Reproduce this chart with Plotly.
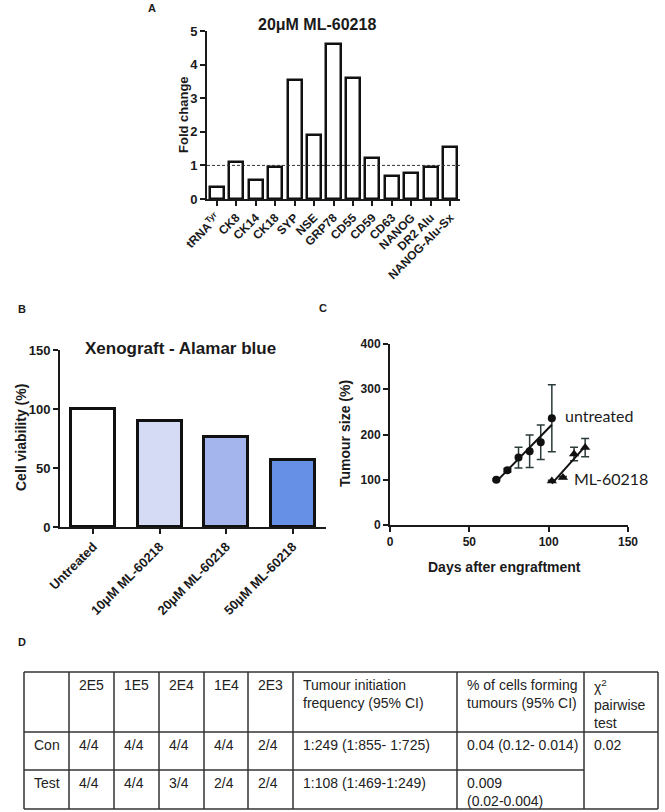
import numpy as np
import plotly.graph_objects as go

W, H = 665, 812

# A: fold change at 20 uM ML-60218
genes = ["tRNA<sup>Tyr</sup>", "CK8", "CK14", "CK18", "SYP", "NSE", "GRP78",
         "CD55", "CD59", "CD63", "NANOG", "DR2 Alu", "NANOG-Alu-Sx"]
fold_change = [0.37, 1.09, 0.58, 0.94, 3.53, 1.91, 4.60, 3.60, 1.23, 0.69, 0.78, 0.95, 1.56]

# B: alamar blue viability
treatments = ["Untreated", "10μM ML-60218", "20μM ML-60218", "50μM ML-60218"]
viability = [100, 90, 76, 57]
bar_colors = ["#ffffff", "#d5daf5", "#a4b5ee", "#6590e6"]

# C: tumour growth
days_untreated = [67, 74, 81, 88, 95, 102]
size_untreated = [100, 121, 149, 163, 183, 236]
err_untreated = [2, 4, 23, 36, 38, 74]
days_ml = [102, 109, 116, 123]
size_ml = [97, 105, 157, 171]
err_ml = [2, 2, 15, 20]

# D: limiting dilution table
doses = ["2E5", "1E5", "2E4", "1E4", "2E3"]
groups = ["Con", "Test"]
con_counts = ["4/4", "4/4", "4/4", "4/4", "2/4"]
test_counts = ["4/4", "4/4", "3/4", "2/4", "2/4"]
tif = ["1:249 (1:855- 1:725)", "1:108 (1:469-1:249)"]
pct_cells = ["0.04 (0.12- 0.014)", "0.009<br>(0.02-0.004)"]
chi2 = ["0.02", ""]
tbl_header = [""] + doses + ["Tumour initiation<br>frequency (95% CI)",
                             "% of cells forming<br>tumours (95% CI)",
                             "χ<sup>2</sup><br>pairwise<br>test"]


def xd(a, b):
    return [a / W, b / W]


def yd(top, bottom):
    return [1 - bottom / H, 1 - top / H]


BOLD = dict(family="Liberation Sans, Arial", color="#1a1a1a", weight="bold")
ax_common = dict(showline=True, linecolor="#1a1a1a", linewidth=2, ticks="outside",
                 ticklen=5, tickwidth=2, tickcolor="#1a1a1a", showgrid=False,
                 zeroline=False, automargin=False)

fig = go.Figure()

fig.add_trace(go.Bar(x=list(range(len(genes))), y=fold_change, width=0.72,
                     marker=dict(color="white", line=dict(color="#111", width=2.5)),
                     xaxis="x", yaxis="y", showlegend=False))

fig.add_trace(go.Bar(x=list(range(len(treatments))), y=viability, width=0.66,
                     marker=dict(color=bar_colors, line=dict(color="#111", width=3)),
                     xaxis="x2", yaxis="y2", showlegend=False))

err_style = dict(type="data", color="#2b3a3a", thickness=1.5, width=4)
fig.add_trace(go.Scatter(x=days_untreated, y=size_untreated, mode="markers",
                         marker=dict(symbol="circle", size=8, color="#111"),
                         error_y=dict(array=err_untreated, **err_style),
                         xaxis="x3", yaxis="y3", showlegend=False))
fig.add_trace(go.Scatter(x=days_ml, y=size_ml, mode="markers",
                         marker=dict(symbol="triangle-up", size=9, color="#111"),
                         error_y=dict(array=err_ml, **err_style),
                         xaxis="x3", yaxis="y3", showlegend=False))

# linear fits through each series
for dx, sy in [(days_untreated, size_untreated), (days_ml, size_ml)]:
    coef = np.polyfit(dx, sy, 1)
    xf = [dx[0], dx[-1]]
    fig.add_trace(go.Scatter(x=xf, y=np.polyval(coef, xf), mode="lines",
                             line=dict(color="#111", width=2),
                             xaxis="x3", yaxis="y3", showlegend=False))

# table grid, in its own hidden axes (units = px from the table's top-left)
col_edges = [0, 45, 90, 135, 180, 224, 269, 433, 560, 634]
row_edges = [0, 60, 98, 137]

fig.update_layout(
    width=W, height=H, margin=dict(l=0, r=0, t=0, b=0),
    paper_bgcolor="white", plot_bgcolor="white", bargap=0,
    xaxis=dict(domain=xd(207, 460), range=[-0.5, 12.5], tickvals=list(range(len(genes))),
               ticktext=genes, tickangle=-45, tickfont=dict(size=12, **BOLD),
               anchor="y", **ax_common),
    yaxis=dict(domain=yd(31, 199), range=[0, 5], dtick=1, tickfont=dict(size=13, **BOLD),
               anchor="x", **ax_common),
    xaxis2=dict(domain=xd(60, 326), range=[-0.5, 3.5], tickvals=list(range(len(treatments))),
                ticktext=treatments, tickangle=-45, tickfont=dict(size=13, **BOLD),
                anchor="y2", **ax_common),
    yaxis2=dict(domain=yd(350, 527), range=[0, 150], dtick=50, tickfont=dict(size=13, **BOLD),
                anchor="x2", **ax_common),
    xaxis3=dict(domain=xd(390, 628), range=[0, 150], dtick=50, tickfont=dict(size=12, **BOLD),
                anchor="y3", **ax_common),
    yaxis3=dict(domain=yd(344, 525), range=[0, 400], dtick=100, tickfont=dict(size=12, **BOLD),
                anchor="x3", **ax_common),
    xaxis4=dict(domain=xd(22, 660), range=[-2, 636], visible=False, anchor="y4"),
    yaxis4=dict(domain=yd(670, 811), range=[139, -2], visible=False, anchor="x4"),
)

fig.add_shape(type="line", xref="x domain", yref="y", x0=0, x1=1, y0=1, y1=1,
              line=dict(color="#333", width=1, dash="3px,2px"))

grid = dict(color="#333", width=1.5)
for cx in col_edges:
    fig.add_shape(type="line", xref="x4", yref="y4", x0=cx, x1=cx,
                  y0=row_edges[0], y1=row_edges[-1], line=grid)
for i, ry in enumerate(row_edges):
    # chi-square cell spans both data rows
    x_end = col_edges[-2] if i == 2 else col_edges[-1]
    fig.add_shape(type="line", xref="x4", yref="y4", x0=col_edges[0], x1=x_end,
                  y0=ry, y1=ry, line=grid)

tfont = dict(family="Liberation Sans, Arial", size=14, color="#222")
tbl_rows = [
    [groups[0]] + con_counts + [tif[0], pct_cells[0], chi2[0]],
    [groups[1]] + test_counts + [tif[1], pct_cells[1], chi2[1]],
]
for r, row in enumerate([tbl_header] + tbl_rows):
    for c, txt in enumerate(row):
        if not txt:
            continue
        fig.add_annotation(text=txt, x=col_edges[c] + 8, y=row_edges[r] + 3,
                           xref="x4", yref="y4", xanchor="left", yanchor="top",
                           align="left", showarrow=False, font=tfont)


def label(text, px, py, size, angle=0, font=None, xanchor="center"):
    f = dict(BOLD) if font is None else dict(font)
    f["size"] = size
    fig.add_annotation(text=text, x=px / W, y=1 - py / H,
                       xref="paper", yref="paper", showarrow=False, textangle=angle,
                       font=f, xanchor=xanchor, yanchor="middle")


label("A", 152, 8, 11)
label("B", 22, 309, 11)
label("C", 323, 308, 11)
label("D", 22, 642, 11)
label("20μM ML-60218", 317, 25, 16)
label("Fold change", 183, 115, 13, angle=-90)
label("Xenograft - Alamar blue", 180, 348, 17)
label("Cell viability (%)", 21, 438, 14, angle=-90)
label("Tumour size (%)", 345, 434, 14, angle=-90)
label("Days after engraftment", 504, 567, 14)

plain = dict(family="Lato, Open Sans", size=16, color="#1a1a1a")
fig.add_annotation(text="untreated", x=109, y=241, xref="x3", yref="y3", showarrow=False,
                   xanchor="left", yanchor="middle", font=plain)
fig.add_annotation(text="ML-60218", x=115, y=102, xref="x3", yref="y3", showarrow=False,
                   xanchor="left", yanchor="middle", font=plain)

# drop the browser's default 8px body margin so the figure sits at the page corner
fig.write_html("out.html", config={"displayModeBar": False},
               post_script="document.body.style.margin = '0';")
